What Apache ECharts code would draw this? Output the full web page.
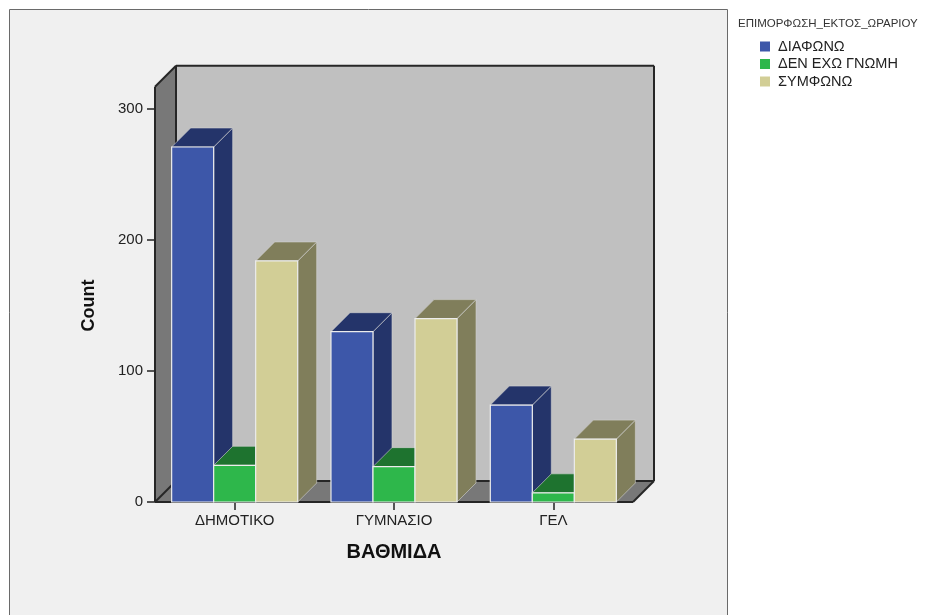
<!DOCTYPE html>
<html>
<head>
<meta charset="utf-8">
<script src="https://cdn.jsdelivr.net/npm/echarts@6/dist/echarts.min.js"></script>
<style>
  html, body { margin: 0; padding: 0; background: #ffffff; }
  #chart { width: 929px; height: 615px; }
</style>
</head>
<body>
<div id="chart"></div>
<script>
// Categories (school level) and counts per answer
const categories = ['ΔΗΜΟΤΙΚΟ', 'ΓΥΜΝΑΣΙΟ', 'ΓΕΛ'];
const seriesNames = ['ΔΙΑΦΩΝΩ', 'ΔΕΝ ΕΧΩ ΓΝΩΜΗ', 'ΣΥΜΦΩΝΩ'];
const diafono = [271, 130, 74];
const denExoGnomi = [28, 27, 7];
const symfono = [184, 140, 48];
const yTicks = [0, 100, 200, 300];
const legendTitle = 'ΕΠΙΜΟΡΦΩΣΗ_ΕΚΤΟΣ_ΩΡΑΡΙΟΥ';

// front / shaded face colours for each answer
const faceColors = [
  { front: '#3d57a9', shade: '#24346a' },
  { front: '#2eb74b', shade: '#1e732f' },
  { front: '#d2ce96', shade: '#807e5b' }
];

const WALL_DEPTH = 21;   // px offset of the back wall
const BAR_DEPTH = 19;    // px offset of each bar's back faces
const WALL_TOP = 317;    // value reached by the top of the side wall
const BAR_FRACTION = 0.2637; // bar width as a share of the category band

const chart = echarts.init(document.getElementById('chart'), null, { renderer: 'canvas' });

function wallItem(params, api) {
  const band = api.size([1, 0])[0];
  const p0 = api.coord([0, 0]);
  const pLast = api.coord([categories.length - 1, 0]);
  const xl = p0[0] - band / 2;
  const xr = pLast[0] + band / 2;
  const yb = p0[1];
  const yt = api.coord([0, WALL_TOP])[1];
  const d = WALL_DEPTH;
  const edge = { stroke: '#262626', lineWidth: 2 };
  const line = (x1, y1, x2, y2) => ({ type: 'line', shape: { x1, y1, x2, y2 }, style: edge, silent: true });
  return {
    type: 'group',
    children: [
      { type: 'rect', shape: { x: xl + d, y: yt - d, width: xr - xl, height: yb - yt }, style: { fill: '#c0c0c0' } },
      { type: 'polygon', shape: { points: [[xl, yt], [xl + d, yt - d], [xl + d, yb - d], [xl, yb]] }, style: { fill: '#787878' } },
      { type: 'polygon', shape: { points: [[xl, yb], [xl + d, yb - d], [xr + d, yb - d], [xr, yb]] }, style: { fill: '#787878' } },
      line(xl + d, yt - d, xr + d, yt - d),
      line(xr + d, yt - d, xr + d, yb - d),
      line(xl + d, yt - d, xl + d, yb - d),
      line(xl + d, yb - d, xr + d, yb - d),
      line(xl, yt, xl + d, yt - d),
      line(xl, yt, xl, yb),
      line(xl, yb, xl + d, yb - d),
      line(xr, yb, xr + d, yb - d),
      line(xl, yb, xr, yb)
    ]
  };
}

function makeBarRenderer(idx) {
  const col = faceColors[idx];
  return function (params, api) {
    const band = api.size([1, 0])[0];
    const bw = band * BAR_FRACTION;
    const base = api.coord([api.value(0), 0]);
    const top = api.coord([api.value(0), api.value(1)]);
    const cx = base[0] + (idx - 1) * bw;
    const x0 = cx - bw / 2, x1 = cx + bw / 2;
    const yb = base[1], yt = top[1];
    const d = BAR_DEPTH;
    const edge = { stroke: 'rgba(210,210,210,0.6)', lineWidth: 1 };
    return {
      type: 'group',
      children: [
        { type: 'polygon', shape: { points: [[x1, yt], [x1 + d, yt - d], [x1 + d, yb - d], [x1, yb]] },
          style: Object.assign({ fill: col.shade }, edge) },
        { type: 'polygon', shape: { points: [[x0, yt], [x1, yt], [x1 + d, yt - d], [x0 + d, yt - d]] },
          style: Object.assign({ fill: col.shade }, edge) },
        { type: 'rect', shape: { x: x0, y: yt, width: bw, height: yb - yt },
          style: { fill: col.front, stroke: '#ececec', lineWidth: 1.2 } }
      ]
    };
  };
}

const valueSets = [diafono, denExoGnomi, symfono];

const barSeries = seriesNames.map((name, i) => ({
  name: name,
  type: 'custom',
  renderItem: makeBarRenderer(i),
  itemStyle: { color: faceColors[i].front },
  encode: { x: 0, y: 1 },
  data: categories.map((c, k) => [k, valueSets[i][k]]),
  z: 3 + i
}));

const option = {
  animation: false,
  backgroundColor: '#ffffff',
  textStyle: { fontFamily: 'Liberation Sans, Arial, sans-serif' },
  graphic: [
    { type: 'rect', z: -10, shape: { x: 9.5, y: 9.5, width: 718, height: 620 },
      style: { fill: '#f0f0f0', stroke: '#6a6a6a', lineWidth: 1 } },
    { type: 'text', left: 738, top: 18,
      style: { text: legendTitle, fontSize: 11.5, fill: '#333', fontFamily: 'Liberation Sans, Arial, sans-serif' } }
  ],
  grid: { left: 155, right: 296, top: 109, bottom: 113 },
  legend: {
    orient: 'vertical',
    left: 755,
    top: 34,
    icon: 'rect',
    itemWidth: 10,
    itemHeight: 10,
    itemGap: 2.5,
    data: seriesNames,
    textStyle: { fontSize: 14.5, color: '#222', padding: [0, 0, 0, 3], lineHeight: 14 }
  },
  xAxis: {
    type: 'category',
    data: categories,
    name: 'ΒΑΘΜΙΔΑ',
    nameLocation: 'middle',
    nameGap: 40,
    nameTextStyle: { fontSize: 20, fontWeight: 'bold', color: '#111' },
    axisLine: { show: false },
    axisTick: { show: true, alignWithLabel: true, length: 8, lineStyle: { color: '#222', width: 1.5 } },
    axisLabel: { fontSize: 15, color: '#222', margin: 11 },
    splitLine: { show: false }
  },
  yAxis: {
    type: 'value',
    min: yTicks[0],
    max: yTicks[yTicks.length - 1],
    interval: 100,
    name: 'Count',
    nameLocation: 'middle',
    nameRotate: 90,
    nameGap: 57,
    nameTextStyle: { fontSize: 18, fontWeight: 'bold', color: '#111' },
    axisLine: { show: false },
    axisTick: { show: true, length: 8, lineStyle: { color: '#222', width: 1.5 } },
    axisLabel: { fontSize: 15, color: '#222', margin: 12 },
    splitLine: { show: false }
  },
  series: [
    {
      name: 'walls',
      type: 'custom',
      renderItem: wallItem,
      encode: { x: 0, y: 1 },
      data: [[0, 0]],
      silent: true,
      z: 1
    }
  ].concat(barSeries)
};

chart.setOption(option);
</script>
</body>
</html>
